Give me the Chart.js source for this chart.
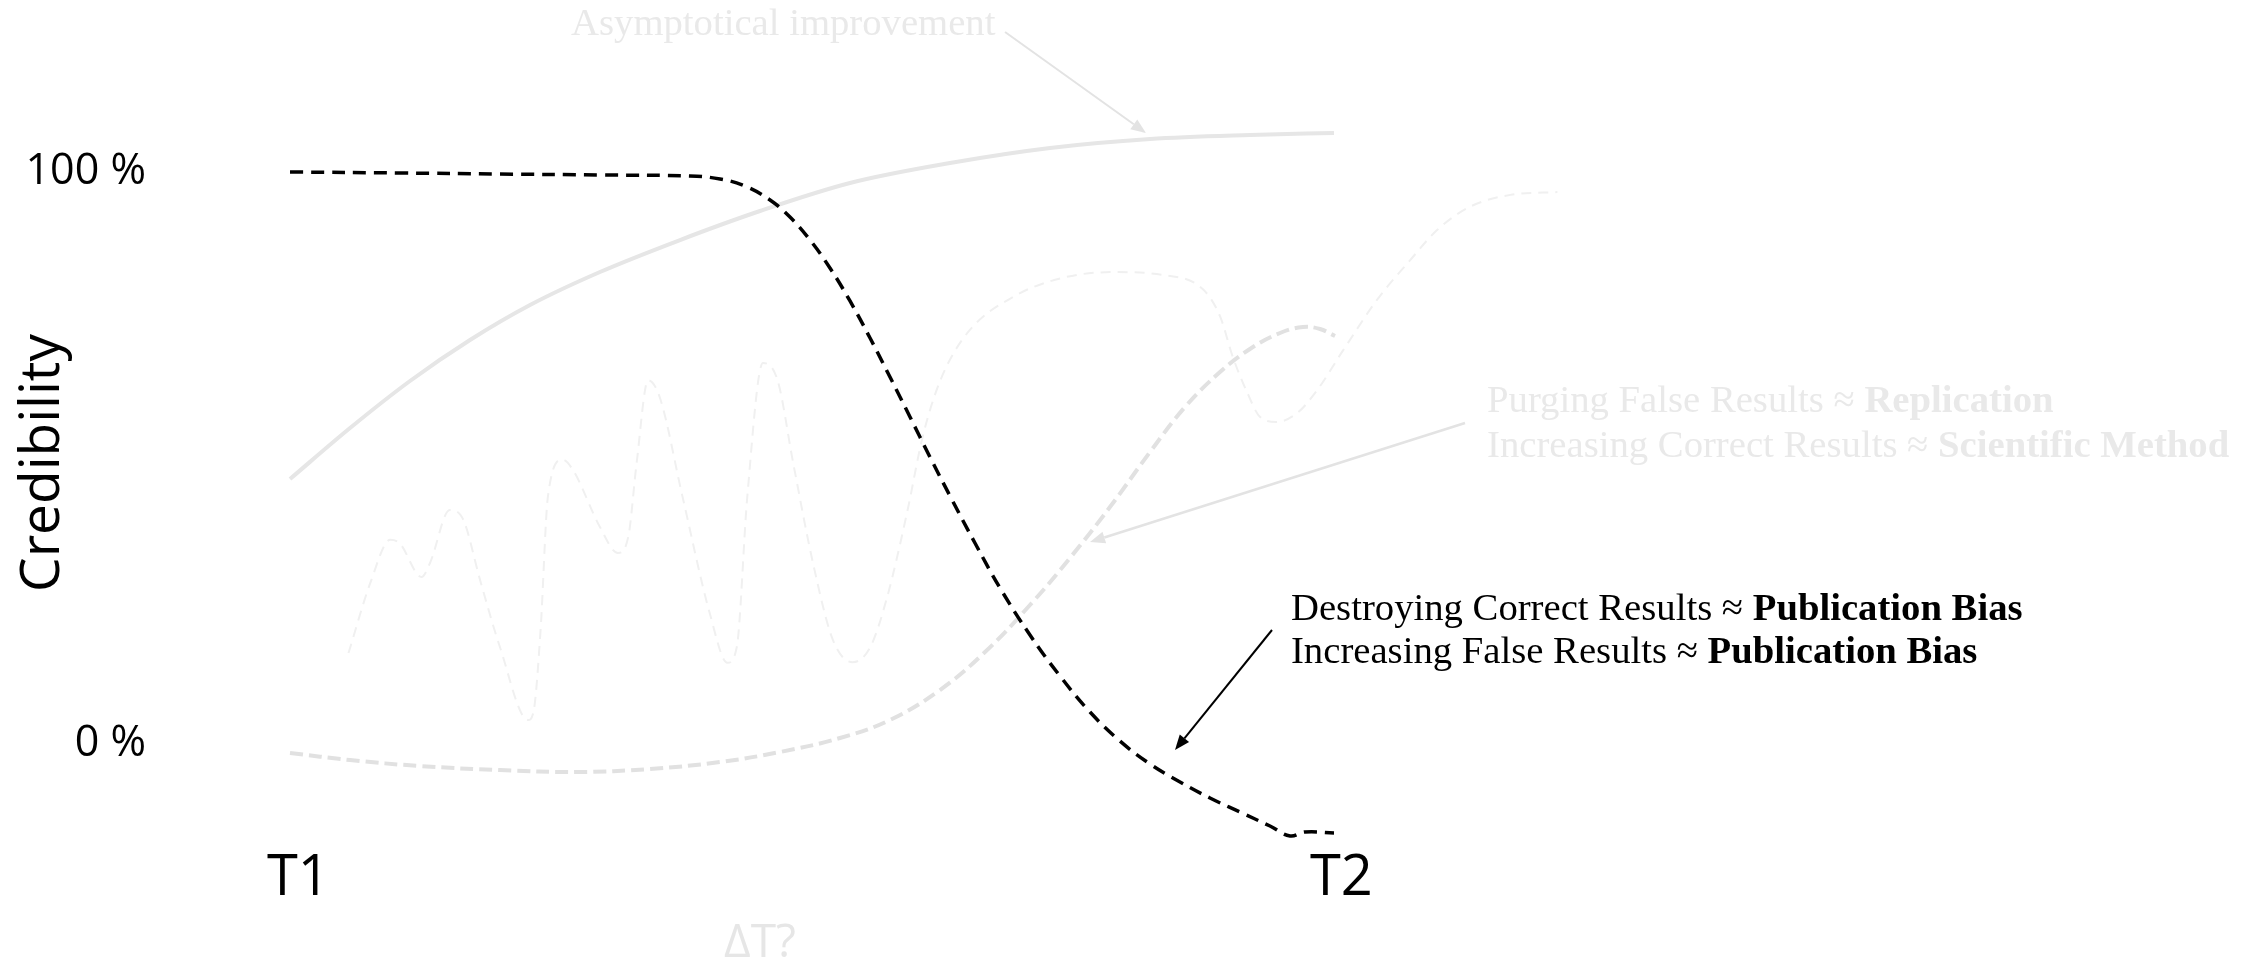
<!DOCTYPE html>
<html>
<head>
<meta charset="utf-8">
<script src="https://cdn.jsdelivr.net/npm/chart.js@4.4.0/dist/chart.umd.min.js"></script>
<style>
html,body{margin:0;padding:0;background:#ffffff;}
#wrap{width:2261px;height:960px;position:relative;}
</style>
</head>
<body>
<div id="wrap"><canvas id="c" width="2261" height="960" style="width:2261px;height:960px"></canvas></div>
<script>
// ---- tick labels / titles ----
const xTickValues = [0.8, 100.7];
const xTickLabels = ['T1', 'T2'];
const yTickValues = [0, 100];
const yTickLabels = ['0 %', '100 %'];
const yAxisTitle = 'Credibility';
const xAxisNote = 'ΔT?';

// ---- series: publication bias (black dashed) ----
const pubBiasX = [0, 10.54, 20.11, 29.69, 38.31, 41.19, 43.58, 45.98, 47.89, 49.81, 51.72, 53.64, 55.56, 57.47, 59.39, 61.30, 63.22, 65.61, 68.01, 70.88, 73.75, 76.63, 79.50, 82.38, 85.25, 88.12, 91.00, 93.87, 95.79, 97.22, 100];
const pubBiasY = [100, 99.83, 99.65, 99.48, 99.30, 98.78, 97.55, 95.10, 92.13, 88.11, 83.22, 77.45, 70.98, 64.16, 57.17, 50.17, 43.36, 35.14, 27.27, 19.06, 11.89, 5.59, 0.52, -3.50, -6.64, -9.44, -11.89, -14.34, -16.08, -15.38, -15.56];

// ---- series: asymptotical improvement (grey solid) ----
const asymX = [0, 5.75, 11.49, 17.24, 22.99, 29.69, 37.36, 45.02, 53.64, 63.22, 72.80, 82.38, 91.95, 100];
const asymY = [46.33, 55.24, 63.46, 70.63, 76.75, 82.52, 88.11, 93.18, 98.08, 101.57, 104.20, 105.77, 106.47, 106.82];

// ---- series: scientific method (grey thick dashed) ----
const sciX = [0, 5.75, 12.45, 20.11, 27.49, 34.48, 41.19, 46.93, 52.68, 57.47, 62.26, 66.57, 70.88, 74.71, 78.54, 82.38, 85.73, 89.08, 91.95, 94.83, 97.03, 98.66, 100.10];
const sciY = [-1.57, -2.80, -3.85, -4.55, -4.90, -4.37, -3.15, -1.40, 1.05, 4.20, 9.44, 16.08, 24.30, 32.52, 41.43, 51.05, 58.92, 65.03, 69.06, 71.85, 72.90, 72.55, 71.33];

// ---- series: noisy results (very light thin dashed) ----
const noiseX = [5.6, 7.7, 9.6, 10.5, 12.6, 13.4, 15.3, 16.6, 18.2, 20.1, 22.8, 23.3, 24.0, 24.7, 26.1, 27.1, 29.7, 31.4, 32.4, 33.2, 34.3, 35.4, 37.6, 40.2, 41.9, 42.8, 43.8, 45.3, 46.7, 48.2, 50.1, 52.0, 53.9, 55.6, 57.2, 59.1, 60.6, 62.3, 64.9, 69.3, 74.0, 78.8, 83.6, 87.5, 89.1, 90.3, 91.7, 92.9, 94.5, 96.5, 98.4, 100.9, 104.1, 107.3, 109.9, 113.0, 116.9, 121.4];
const noiseY = [15.9, 28.2, 35.7, 35.1, 29.2, 31.6, 40.9, 39.2, 28.7, 17.0, 4.2, 5.4, 19.9, 43.2, 49.7, 47.9, 37.9, 33.4, 36.2, 49.1, 63.6, 60.7, 43.2, 22.9, 14.2, 17.0, 43.2, 66.6, 63.6, 49.1, 31.6, 18.2, 14.3, 17.0, 25.7, 40.4, 53.7, 63.6, 71.9, 78.2, 81.5, 82.5, 82.0, 79.4, 74.7, 67.7, 61.4, 57.2, 56.3, 57.9, 61.9, 68.9, 77.6, 84.6, 89.9, 93.9, 96.0, 96.5];

function pts(xs, ys) { return xs.map((x, i) => ({x: x, y: ys[i]})); }

// ---- annotation layout (in data units) ----
const SERIF = '"Liberation Serif", "Times New Roman", serif';
const SANS = '"Open Sans", "Noto Sans", sans-serif';
const notes = [
  {x: 26.92, y: 123.95, color: '#e9e9e9', parts: [['Asymptotical improvement', false]]},
  {x: 114.66, y: 58.04, color: '#e9e9e9', parts: [['Purging False Results \u2248 ', false], ['Replication', true]]},
  {x: 114.66, y: 50.17, color: '#e9e9e9', parts: [['Increasing Correct Results \u2248 ', false], ['Scientific Method', true]]},
  {x: 95.88, y: 21.68, color: '#000000', parts: [['Destroying Correct Results \u2248 ', false], ['Publication Bias', true]]},
  {x: 95.88, y: 14.16, color: '#000000', parts: [['Increasing False Results \u2248 ', false], ['Publication Bias', true]]}
];
const arrows = [
  {from: [68.49, 124.48], to: [81.99, 106.82], color: '#e3e3e3', width: 2},
  {from: [112.55, 56.12], to: [76.63, 35.31], color: '#e3e3e3', width: 2.5},
  {from: [94.06, 19.93], to: [84.77, -1.05], color: '#000000', width: 2}
];
const noteDT = {x: 45.02, y: -35.0, color: '#e6e6e6'};

const annotPlugin = {
  id: 'annot',
  afterDatasetsDraw(chart) {
    const ctx = chart.ctx, xs = chart.scales.x, ys = chart.scales.y;
    ctx.save();
    arrows.forEach(a => {
      const x1 = xs.getPixelForValue(a.from[0]), y1 = ys.getPixelForValue(a.from[1]);
      const x2 = xs.getPixelForValue(a.to[0]), y2 = ys.getPixelForValue(a.to[1]);
      const ang = Math.atan2(y2 - y1, x2 - x1);
      const hl = 15, hw = 6;
      const bx = x2 - hl * Math.cos(ang), by = y2 - hl * Math.sin(ang);
      ctx.strokeStyle = a.color; ctx.lineWidth = a.width; ctx.setLineDash([]);
      ctx.beginPath(); ctx.moveTo(x1, y1); ctx.lineTo(bx, by); ctx.stroke();
      ctx.fillStyle = a.color;
      ctx.beginPath();
      ctx.moveTo(x2, y2);
      ctx.lineTo(bx + hw * Math.sin(ang), by - hw * Math.cos(ang));
      ctx.lineTo(bx - hw * Math.sin(ang), by + hw * Math.cos(ang));
      ctx.closePath(); ctx.fill();
    });
    ctx.textBaseline = 'alphabetic'; ctx.textAlign = 'left';
    notes.forEach(n => {
      let px = xs.getPixelForValue(n.x);
      const py = ys.getPixelForValue(n.y);
      ctx.fillStyle = n.color;
      n.parts.forEach(p => {
        ctx.font = (p[1] ? 'bold ' : '') + '38.7px ' + SERIF;
        ctx.fillText(p[0], px, py);
        px += ctx.measureText(p[0]).width;
      });
    });
    ctx.font = '46px ' + SANS;
    ctx.fillStyle = noteDT.color;
    ctx.textAlign = 'center'; ctx.textBaseline = 'middle';
    ctx.fillText(xAxisNote, xs.getPixelForValue(noteDT.x), ys.getPixelForValue(noteDT.y));
    ctx.restore();
  }
};

const base = {pointRadius: 0, fill: false, tension: 0.4, clip: false, borderCapStyle: 'butt'};
new Chart(document.getElementById('c'), {
  type: 'line',
  data: {
    datasets: [
      Object.assign({}, base, {data: pts(pubBiasX, pubBiasY), borderColor: '#000000', borderWidth: 3.5, borderDash: [13, 8], order: 0}),
      Object.assign({}, base, {data: pts(asymX, asymY), borderColor: '#e6e6e6', borderWidth: 4, borderDash: [], cubicInterpolationMode: 'monotone', order: 2}),
      Object.assign({}, base, {data: pts(sciX, sciY), borderColor: '#e1e1e1', borderWidth: 4, borderDash: [13, 6], order: 1}),
      Object.assign({}, base, {data: pts(noiseX, noiseY), borderColor: '#f0f0f0', borderWidth: 2, borderDash: [10, 7], cubicInterpolationMode: 'monotone', order: 3})
    ]
  },
  options: {
    responsive: false,
    animation: false,
    devicePixelRatio: 1,
    layout: {padding: {top: 96, right: 21, left: 0, bottom: 0}},
    plugins: {legend: {display: false}, tooltip: {enabled: false}},
    scales: {
      x: {
        type: 'linear', min: -8.621, max: 186.782,
        grid: {display: false, drawTicks: false}, border: {display: false},
        afterBuildTicks: s => { s.ticks = xTickValues.map(v => ({value: v})); },
        afterFit: s => { s.height = 130; },
        ticks: {
          autoSkip: false, maxRotation: 0, padding: 15, color: '#000000',
          font: {family: SANS, size: 56},
          callback: (v, i) => xTickLabels[i]
        }
      },
      y: {
        type: 'linear', min: -15.035, max: 113.287,
        grid: {display: false, drawTicks: false}, border: {display: false},
        afterBuildTicks: s => { s.ticks = yTickValues.map(v => ({value: v})); },
        afterFit: s => { s.width = 200; },
        ticks: {
          autoSkip: false, padding: 54, color: '#000000',
          font: {family: SANS, size: 43},
          callback: (v, i) => yTickLabels[i]
        },
        title: {display: true, text: yAxisTitle, color: '#000000', font: {family: SANS, size: 55}, padding: {top: 10, bottom: 0}}
      }
    }
  },
  plugins: [annotPlugin]
});
</script>
</body>
</html>
